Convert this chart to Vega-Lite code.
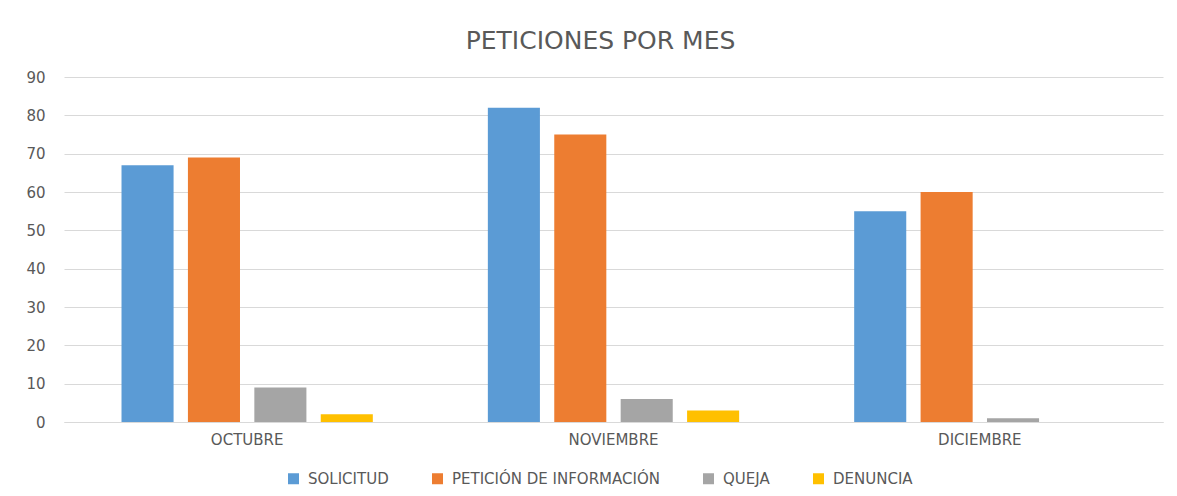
{
  "$schema": "https://vega.github.io/schema/vega-lite/v6.json",
  "width": 1099,
  "height": 345,
  "autosize": {"type": "none"},
  "padding": {"left": 64, "top": 77, "right": 14, "bottom": 74},
  "background": "white",
  "title": {
    "text": "PETICIONES POR MES",
    "anchor": "middle",
    "font": "DejaVu Sans",
    "fontSize": 25,
    "fontWeight": "normal",
    "color": "#595959",
    "offset": 16,
    "dx": -13
  },
  "data": {
    "values": [
      {"mes": "OCTUBRE", "tipo": "SOLICITUD", "valor": 67},
      {"mes": "OCTUBRE", "tipo": "PETICIÓN DE INFORMACIÓN", "valor": 69},
      {"mes": "OCTUBRE", "tipo": "QUEJA", "valor": 9},
      {"mes": "OCTUBRE", "tipo": "DENUNCIA", "valor": 2},
      {"mes": "NOVIEMBRE", "tipo": "SOLICITUD", "valor": 82},
      {"mes": "NOVIEMBRE", "tipo": "PETICIÓN DE INFORMACIÓN", "valor": 75},
      {"mes": "NOVIEMBRE", "tipo": "QUEJA", "valor": 6},
      {"mes": "NOVIEMBRE", "tipo": "DENUNCIA", "valor": 3},
      {"mes": "DICIEMBRE", "tipo": "SOLICITUD", "valor": 55},
      {"mes": "DICIEMBRE", "tipo": "PETICIÓN DE INFORMACIÓN", "valor": 60},
      {"mes": "DICIEMBRE", "tipo": "QUEJA", "valor": 1},
      {"mes": "DICIEMBRE", "tipo": "DENUNCIA", "valor": 0}
    ]
  },
  "mark": {"type": "bar"},
  "encoding": {
    "x": {
      "field": "mes",
      "type": "nominal",
      "sort": ["OCTUBRE", "NOVIEMBRE", "DICIEMBRE"],
      "scale": {"paddingInner": 0.314, "paddingOuter": 0.157},
      "axis": {
        "title": null,
        "labelAngle": 0,
        "ticks": false,
        "domainColor": "#d9d9d9",
        "labelFont": "DejaVu Sans",
        "labelFontSize": 15,
        "labelColor": "#595959",
        "labelPadding": 10
      }
    },
    "xOffset": {
      "field": "tipo",
      "type": "nominal",
      "sort": ["SOLICITUD", "PETICIÓN DE INFORMACIÓN", "QUEJA", "DENUNCIA"],
      "scale": {"paddingInner": 0.216, "paddingOuter": 0}
    },
    "y": {
      "field": "valor",
      "type": "quantitative",
      "scale": {"domain": [0, 90], "nice": false},
      "axis": {
        "title": null,
        "values": [0, 10, 20, 30, 40, 50, 60, 70, 80, 90],
        "ticks": false,
        "domain": false,
        "gridColor": "#d9d9d9",
        "labelFont": "DejaVu Sans",
        "labelFontSize": 15,
        "labelColor": "#595959",
        "labelPadding": 19
      }
    },
    "color": {
      "field": "tipo",
      "type": "nominal",
      "sort": ["SOLICITUD", "PETICIÓN DE INFORMACIÓN", "QUEJA", "DENUNCIA"],
      "scale": {
        "domain": ["SOLICITUD", "PETICIÓN DE INFORMACIÓN", "QUEJA", "DENUNCIA"],
        "range": ["#5B9BD5", "#ED7D31", "#A5A5A5", "#FFC000"]
      },
      "legend": {
        "title": null,
        "orient": "none",
        "direction": "horizontal",
        "legendX": 222,
        "legendY": 394,
        "symbolType": "square",
        "symbolSize": 121,
        "symbolStrokeWidth": 0,
        "symbolOpacity": 1,
        "labelFont": "DejaVu Sans",
        "labelFontSize": 15,
        "labelColor": "#595959",
        "labelOffset": 7,
        "labelLimit": 0,
        "columnPadding": 41
      }
    }
  },
  "config": {
    "view": {"stroke": null}
  }
}
